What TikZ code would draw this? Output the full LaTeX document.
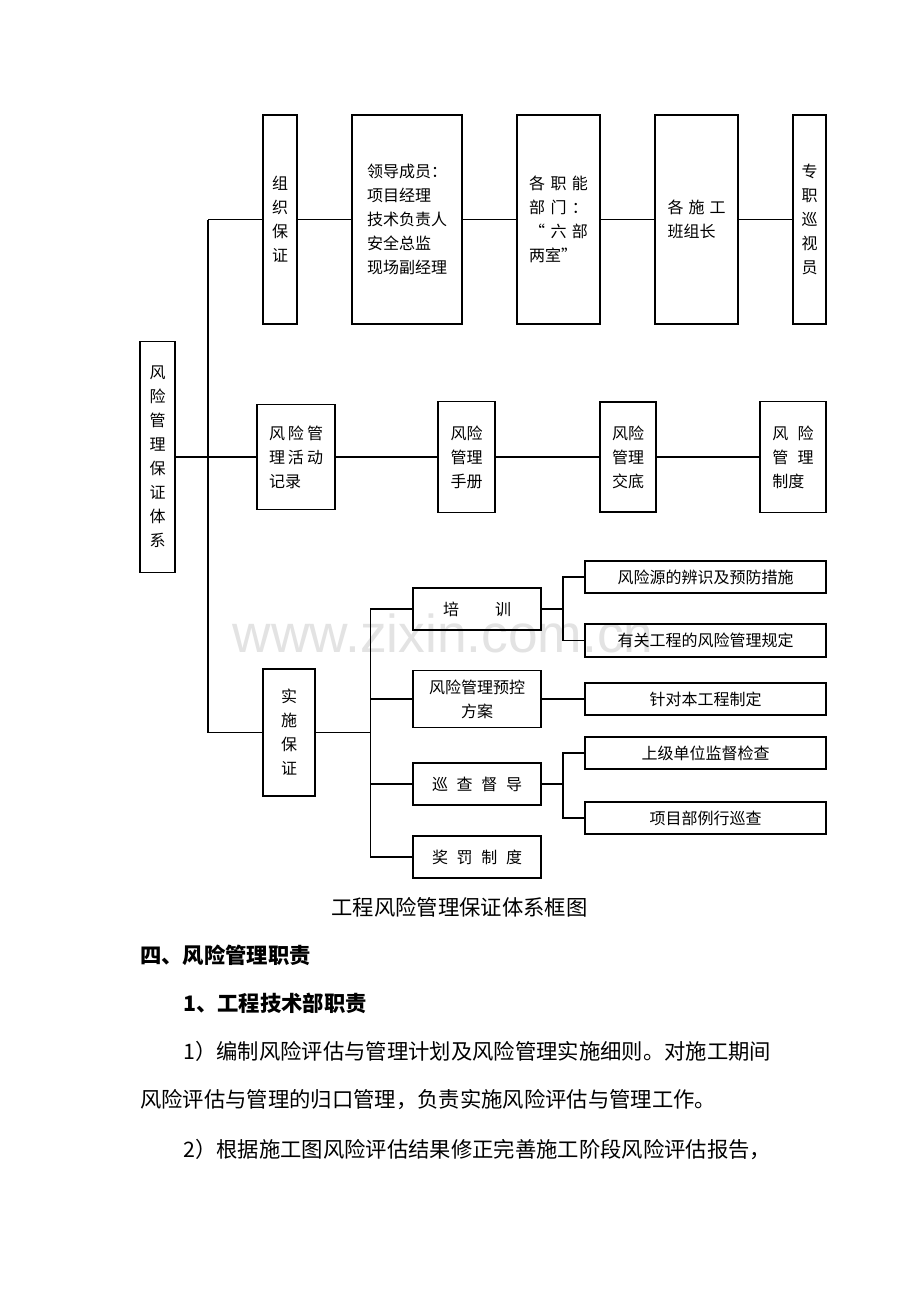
\documentclass[tikz,border=0pt]{standalone}
\usepackage{fontspec}
\newfontfamily\cjk{Noto Sans CJK SC}
\newfontfamily\wmfont{Liberation Sans}
\begin{document}
\begin{tikzpicture}[x=0.75pt,y=-0.75pt,
  bx/.style={draw, line width=0.8pt, inner sep=0pt, align=center, font=\cjk\fontsize{12}{18}\selectfont},
  sz/.style 2 args={minimum width=#1*0.75pt, minimum height=#2*0.75pt},
  ln/.style={line width=0.8pt},
  txt/.style={inner sep=0pt, font=\cjk\fontsize{16}{20}\selectfont},
  hd/.style={inner sep=0pt, font=\cjk\bfseries\fontsize{16}{20}\selectfont}]
\useasboundingbox (0,0) rectangle (920,1302);
\fill[white] (0,0) rectangle (920,1302);
% watermark
\node[anchor=base, inner sep=0pt, text=black!11, font=\wmfont\fontsize{40}{40}\selectfont] (wm) at (443,652) {www.zixin.com.cn};
% left and top row
\node[bx, sz={35}{231}] (main) at (157.5,457) {风\\险\\管\\理\\保\\证\\体\\系};
\node[bx, sz={34}{209}] (org) at (280,219.5) {组\\织\\保\\证};
\node[bx, sz={110}{209}, align=left] (lead) at (407,219.5) {领导成员：\\项目经理\\技术负责人\\安全总监\\现场副经理};
\node[bx, sz={83}{209}, align=left] (func) at (558.5,219.5) {\makebox[44pt][s]{各\hfill 职\hfill 能}\\\makebox[44pt][s]{部\hfill 门\hfill ：}\\\makebox[44pt][s]{“\hfill 六\hfill 部}\\两室”};
\node[bx, sz={83}{209}, align=left] (team) at (696.5,219.5) {\makebox[43.5pt][s]{各\hfill 施\hfill 工}\\班组长};
\node[bx, sz={33}{209}] (insp) at (809.5,219.5) {专\\职\\巡\\视\\员};
% row 2
\node[bx, sz={78}{105}, align=left] (rec) at (296,457) {\makebox[40.5pt][s]{风\hfill 险\hfill 管}\\\makebox[40.5pt][s]{理\hfill 活\hfill 动}\\记录};
\node[bx, sz={57}{111}] (man) at (466.5,457) {风险\\管理\\手册};
\node[bx, sz={56}{110}] (disc) at (628,457) {风险\\管理\\交底};
\node[bx, sz={66}{111}, align=left] (sys) at (793,457) {\makebox[31pt][s]{风\hfill 险}\\\makebox[31pt][s]{管\hfill 理}\\制度};
% row 3
\node[bx, sz={52}{127}] (impl) at (289,732.5) {实\\施\\保\\证};
\node[bx, sz={128}{42}] (train) at (477,609) {\makebox[51pt][s]{培\hfill 训}};
\node[bx, sz={128}{57}] (plan) at (477,699) {风险管理预控\\方案};
\node[bx, sz={128}{42}] (patrol) at (477,784) {\makebox[67.5pt][s]{巡\hfill 查\hfill 督\hfill 导}};
\node[bx, sz={128}{42}] (reward) at (477,857) {\makebox[67.5pt][s]{奖\hfill 罚\hfill 制\hfill 度}};
\node[bx, sz={241}{32}] (r1) at (705.5,577) {风险源的辨识及预防措施};
\node[bx, sz={241}{33}] (r2) at (705.5,640.5) {有关工程的风险管理规定};
\node[bx, sz={241}{32}] (r3) at (705.5,699) {针对本工程制定};
\node[bx, sz={241}{32}] (r4) at (705.5,753) {上级单位监督检查};
\node[bx, sz={241}{32}] (r5) at (705.5,818) {项目部例行巡查};
% connectors
\coordinate (tTop) at (208,219.5);
\coordinate (tBot) at (208,732.5);
\coordinate (bj) at (370.5,732.5);
\coordinate (c1) at (563,609);
\coordinate (c2) at (563,784);
\draw[ln] (tTop) -- (tBot);
\draw[ln] (tTop) -- (org.west);
\draw[ln] (tBot) -- (impl.west);
\draw[ln] (main.east) -- (rec.west);
\draw[ln] (org.east) -- (lead.west);
\draw[ln] (lead.east) -- (func.west);
\draw[ln] (func.east) -- (team.west);
\draw[ln] (team.east) -- (insp.west);
\draw[ln] (rec.east) -- (man.west);
\draw[ln] (man.east) -- (disc.west);
\draw[ln] (disc.east) -- (sys.west);
\draw[ln] (impl.east) -- (bj);
\draw[ln] (train.west) -- (train.west -| bj) -- (reward.west -| bj) -- (reward.west);
\draw[ln] (plan.west) -- (plan.west -| bj);
\draw[ln] (patrol.west) -- (patrol.west -| bj);
\draw[ln] (train.east) -- (c1);
\draw[ln] (r1.west) -| (c1) |- (r2.west);
\draw[ln] (plan.east) -- (r3.west);
\draw[ln] (patrol.east) -- (c2);
\draw[ln] (r4.west) -| (c2) |- (r5.west);
% caption and text
\node[txt] (cap) at (459.5,907) {工程风险管理保证体系框图};
\node[hd, anchor=west] (h1) at (140,955) {四、风险管理职责};
\node[hd, anchor=west] (h2) at (183,1003) {1、工程技术部职责};
\node[txt, anchor=west] (p1) at (183,1051) {1）编制风险评估与管理计划及风险管理实施细则。对施工期间};
\node[txt, anchor=west] (p2) at (140,1100) {风险评估与管理的归口管理，负责实施风险评估与管理工作。};
\node[txt, anchor=west] (p3) at (183,1149) {2）根据施工图风险评估结果修正完善施工阶段风险评估报告，};
\end{tikzpicture}
\end{document}
